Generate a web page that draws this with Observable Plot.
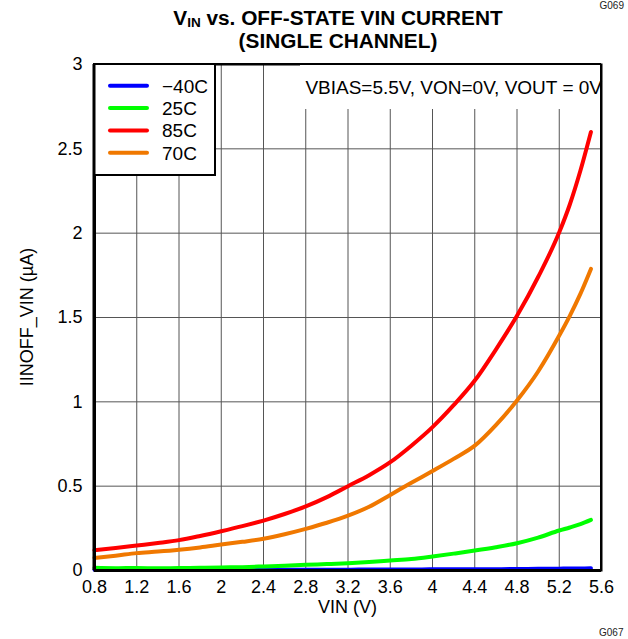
<!DOCTYPE html>
<html><head><meta charset="utf-8">
<script src="https://cdn.jsdelivr.net/npm/d3@7"></script>
<script src="https://cdn.jsdelivr.net/npm/@observablehq/plot@0.6"></script>
<style>
body{margin:0;background:#fff;}
#wrap{position:relative;width:628px;height:639px;overflow:hidden;}
.t{position:absolute;white-space:nowrap;}
</style>
</head><body>
<div id="wrap"></div>
<script>
// ---- data ----
const vin  = [0.8,1.0,1.2,1.4,1.6,1.8,2.0,2.2,2.4,2.6,2.8,3.0,3.2,3.4,3.6,3.8,4.0,4.2,4.4,4.6,4.8,5.0,5.2,5.3,5.4,5.5];
const iM40 = [0.004,0.003,0.004,0.003,0.004,0.004,0.004,0.004,0.005,0.004,0.005,0.005,0.005,0.006,0.006,0.006,0.007,0.007,0.008,0.008,0.009,0.010,0.011,0.012,0.012,0.014];
const i25  = [0.016,0.014,0.015,0.013,0.015,0.016,0.018,0.020,0.024,0.028,0.034,0.038,0.043,0.050,0.059,0.068,0.083,0.100,0.118,0.138,0.162,0.195,0.237,0.255,0.275,0.300];
const i85  = [0.120,0.133,0.148,0.163,0.180,0.205,0.233,0.263,0.296,0.335,0.380,0.435,0.500,0.565,0.642,0.740,0.850,0.980,1.126,1.310,1.510,1.740,2.005,2.170,2.370,2.600];
const i70  = [0.075,0.088,0.103,0.112,0.123,0.137,0.154,0.170,0.188,0.215,0.247,0.283,0.325,0.378,0.448,0.520,0.590,0.662,0.740,0.862,1.008,1.180,1.393,1.510,1.640,1.788];
const seriesNames  = ["\u221240C","25C","85C","70C"];
const seriesColors = ["#0000ff","#00ff00","#ff0000","#f07800"];
const xTicks = [0.8,1.2,1.6,2.0,2.4,2.8,3.2,3.6,4.0,4.4,4.8,5.2,5.6];
const yTicks = [0,0.5,1,1.5,2,2.5,3];
const titleLine1 = "vs. OFF-STATE VIN CURRENT";
const titleLine2 = "(SINGLE CHANNEL)";
const xLabel = "VIN (V)";
const yLabel = "IINOFF_VIN (\u00b5A)";
const note = "VBIAS=5.5V, VON=0V, VOUT = 0V";

const rows = [];
[iM40, i25, i85, i70].forEach((arr, k) =>
  arr.forEach((v, i) => rows.push({vin: vin[i], cur: v, s: seriesNames[k]})));

const FONT = "'Liberation Sans', Arial, sans-serif";
const fmt = d => String(+d.toFixed(1));

const chart = Plot.plot({
  width: 628, height: 639,
  marginLeft: 94, marginRight: 27, marginTop: 64, marginBottom: 69,
  style: {fontFamily: FONT, fontSize: "18px", background: "white", color: "black", overflow: "visible"},
  x: {domain: [0.8, 5.6]},
  y: {domain: [0, 3]},
  color: {domain: seriesNames, range: seriesColors},
  marks: [
    Plot.gridX(xTicks, {stroke: "#555", strokeOpacity: 1, strokeWidth: 1}),
    Plot.gridY(yTicks, {stroke: "#555", strokeOpacity: 1, strokeWidth: 1}),
    Plot.axisX(xTicks, {tickSize: 0, tickPadding: 10, tickFormat: fmt, label: null, fontSize: 18}),
    Plot.axisY(yTicks, {tickSize: 0, tickPadding: 12, tickFormat: fmt, label: null, fontSize: 18}),
    Plot.line(rows, {x: "vin", y: "cur", z: "s", stroke: "s", strokeWidth: 4, strokeLinecap: "round", strokeLinejoin: "round", curve: "monotone-x"}),
    Plot.frame({stroke: "black", strokeWidth: 2}),
    Plot.ruleX([0.8], {stroke: "black", strokeWidth: 3}),
    Plot.ruleY([0], {stroke: "black", strokeWidth: 3})
  ]
});
document.getElementById("wrap").appendChild(chart);

const svg = d3.select(chart);
const sx = chart.scale("x"), sy = chart.scale("y");
const fL = sx.range[0], fR = sx.range[1], fT = sy.range[1], fB = sy.range[0];

// annotation box with text
const ann = svg.append("g");
ann.append("rect").attr("x", 300).attr("y", fT + 1).attr("width", fR - 1 - 300).attr("height", 44).attr("fill", "white");
ann.append("text").attr("x", fR + 1).attr("y", 94).attr("text-anchor", "end")
  .attr("font-family", FONT).attr("font-size", 19).attr("fill", "black").text(note);
svg.append("line").attr("x1", fR).attr("x2", fR).attr("y1", fT).attr("y2", fB).attr("stroke", "black").attr("stroke-width", 2);

// legend
const lg = svg.append("g");
lg.append("rect").attr("x", fL).attr("y", fT).attr("width", 121).attr("height", 111)
  .attr("fill", "white").attr("stroke", "black").attr("stroke-width", 2);
seriesNames.forEach((name, i) => {
  const yy = 85.8 + 22.3 * i;
  lg.append("line").attr("x1", 110).attr("x2", 147).attr("y1", yy).attr("y2", yy)
    .attr("stroke", seriesColors[i]).attr("stroke-width", 4).attr("stroke-linecap", "round");
  lg.append("text").attr("x", 162).attr("y", yy + 7).attr("text-anchor", "start")
    .attr("font-family", FONT).attr("font-size", 19).attr("fill", "black").text(name);
});
svg.append("line").attr("x1", fL).attr("x2", fL).attr("y1", fT).attr("y2", fB).attr("stroke", "black").attr("stroke-width", 3);
svg.append("line").attr("x1", fL).attr("x2", fR).attr("y1", fT).attr("y2", fT).attr("stroke", "black").attr("stroke-width", 2);

// axis labels
svg.append("text").attr("x", (fL + fR) / 2).attr("y", 613).attr("text-anchor", "middle")
  .attr("font-family", FONT).attr("font-size", 18).attr("fill", "black").text(xLabel);
svg.append("text").attr("transform", `translate(33,${(fT + fB) / 2}) rotate(-90)`).attr("text-anchor", "middle")
  .attr("font-family", FONT).attr("font-size", 18).attr("fill", "black").text(yLabel);

// title (HTML), two lines
const wrap = document.getElementById("wrap");
function addDiv(html, css) { const d = document.createElement("div"); d.className = "t"; d.innerHTML = html; d.style.cssText += css; wrap.appendChild(d); return d; }
const TF = "font-family:'Liberation Sans',Arial,sans-serif;font-weight:bold;font-size:20px;line-height:23px;transform:scaleX(1.04);transform-origin:338px 0;";
addDiv(`V<sub style="font-size:13px;vertical-align:-2px;line-height:0">IN</sub> ${titleLine1}<br>${titleLine2}`, TF + "left:0;width:676px;text-align:center;top:7px;");
addDiv("G069", "font-family:" + FONT + ";font-size:10px;right:4px;top:0px;color:#222;");
addDiv("G067", "font-family:" + FONT + ";font-size:10px;left:599px;top:627px;color:#222;");
</script>
</body></html>
